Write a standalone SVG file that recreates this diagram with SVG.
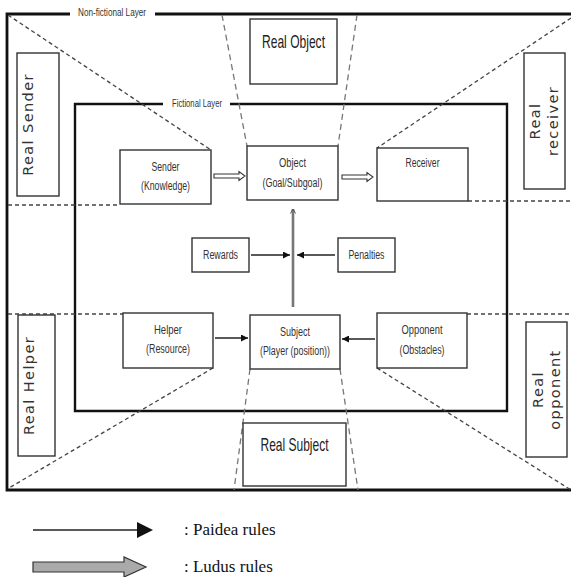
<svg xmlns="http://www.w3.org/2000/svg" width="571" height="577" viewBox="0 0 571 577">
<style>
.frame{fill:none;stroke:#111;stroke-width:2.8}
.inner{fill:none;stroke:#111;stroke-width:2.4}
.box{fill:#fff;stroke:#333;stroke-width:1.4}
.dash{fill:none;stroke:#444;stroke-width:1.3;stroke-dasharray:4 3}
.dash2{fill:none;stroke:#777;stroke-width:1.3;stroke-dasharray:6 4}
.lbl{font-family:"Liberation Sans",Arial,sans-serif;font-size:12.5px;fill:#333;text-anchor:middle}
.big{font-family:"Liberation Sans",Arial,sans-serif;font-size:18.5px;fill:#222;text-anchor:middle}
.layer{font-family:"Liberation Sans",Arial,sans-serif;font-size:10px;fill:#333;text-anchor:middle}
.real{font-family:"DejaVu Sans",Verdana,sans-serif;font-size:14.5px;fill:#333;text-anchor:middle;letter-spacing:1.4px}
.leg{font-family:"Liberation Serif","Times New Roman",serif;font-size:17px;fill:#111}
.pa{stroke:#222;stroke-width:1.4;fill:none}
.ludus{fill:#fff;stroke:#333;stroke-width:1.1}
</style>
<defs>
<marker id="ah" viewBox="0 0 10 10" refX="10" refY="5" markerWidth="7" markerHeight="7" markerUnits="userSpaceOnUse" orient="auto">
<path d="M0 0 L10 5 L0 10 z" fill="#111"/>
</marker>
<marker id="ahg" viewBox="0 0 10 10" refX="9" refY="5" markerWidth="5" markerHeight="6" markerUnits="userSpaceOnUse" orient="auto">
<path d="M0 0 L10 5 L0 10" fill="none" stroke="#555" stroke-width="2"/>
</marker>
<path id="dbl" d="M0 -2 H25 V-4.5 L31 0 L25 4.5 V2 H0 z"/>
</defs>

<g id="frames">
<path class="frame" d="M70 14 H7 V490 H571"/>
<path class="frame" d="M155 14 H571"/>
<text class="layer" x="112" y="16" textLength="68" lengthAdjust="spacingAndGlyphs">Non-fictional Layer</text>
<path class="inner" d="M163 104 H75 V411 H507 V104 H230"/>
<text class="layer" x="197" y="107" textLength="50" lengthAdjust="spacingAndGlyphs">Fictional Layer</text>
</g>

<g id="guides">
<line class="dash" x1="8" y1="15" x2="211" y2="150"/>
<line class="dash2" x1="222" y1="15" x2="247" y2="146"/>
<line class="dash2" x1="357" y1="15" x2="338" y2="146"/>
<line class="dash" x1="571" y1="18" x2="377" y2="148"/>
<line class="dash" x1="8" y1="205" x2="120" y2="205"/>
<line class="dash" x1="468" y1="201" x2="571" y2="201"/>
<line class="dash" x1="8" y1="314" x2="123" y2="314"/>
<line class="dash" x1="467" y1="314" x2="571" y2="314"/>
<line class="dash" x1="213" y1="368" x2="9" y2="488"/>
<line class="dash2" x1="250" y1="369" x2="234" y2="490"/>
<line class="dash2" x1="340" y1="369" x2="358" y2="490"/>
<line class="dash" x1="377" y1="368" x2="571" y2="490"/>
</g>

<g id="real-object">
<rect class="box" x="250" y="19" width="87" height="65"/>
<text class="big" x="293.5" y="48" textLength="63" lengthAdjust="spacingAndGlyphs">Real Object</text>
</g>
<g id="real-subject">
<rect class="box" x="243" y="423" width="103" height="63"/>
<text class="big" x="294.5" y="451" textLength="68" lengthAdjust="spacingAndGlyphs">Real Subject</text>
</g>
<g id="real-sender">
<rect class="box" x="17" y="53" width="42" height="143"/>
<text class="real" transform="translate(33 124.5) rotate(-90)">Real Sender</text>
</g>
<g id="real-helper">
<rect class="box" x="18" y="315" width="37" height="141"/>
<text class="real" transform="translate(34 385.5) rotate(-90)">Real Helper</text>
</g>
<g id="real-receiver">
<rect class="box" x="524" y="53" width="41" height="136"/>
<text class="real" transform="translate(540 121) rotate(-90)">Real</text>
<text class="real" transform="translate(558 121) rotate(-90)">receiver</text>
</g>
<g id="real-opponent">
<rect class="box" x="526" y="322" width="41" height="135"/>
<text class="real" transform="translate(543 389.5) rotate(-90)">Real</text>
<text class="real" transform="translate(560 389.5) rotate(-90)">opponent</text>
</g>

<g id="sender">
<rect class="box" x="120" y="150" width="91" height="54"/>
<text class="lbl" x="165.5" y="171" textLength="28" lengthAdjust="spacingAndGlyphs">Sender</text>
<text class="lbl" x="165.5" y="190" textLength="49" lengthAdjust="spacingAndGlyphs">(Knowledge)</text>
</g>
<g id="object">
<rect class="box" x="247" y="146" width="91" height="54"/>
<text class="lbl" x="292.5" y="167" textLength="27" lengthAdjust="spacingAndGlyphs">Object</text>
<text class="lbl" x="292.5" y="187" textLength="60" lengthAdjust="spacingAndGlyphs">(Goal/Subgoal)</text>
</g>
<g id="receiver">
<rect class="box" x="377" y="148" width="91" height="53"/>
<text class="lbl" x="422.5" y="167" textLength="34" lengthAdjust="spacingAndGlyphs">Receiver</text>
</g>
<g id="rewards">
<rect class="box" x="192" y="238" width="57" height="34"/>
<text class="lbl" x="220.5" y="259" textLength="35" lengthAdjust="spacingAndGlyphs">Rewards</text>
</g>
<g id="penalties">
<rect class="box" x="338" y="238" width="57" height="34"/>
<text class="lbl" x="366.5" y="259" textLength="36" lengthAdjust="spacingAndGlyphs">Penalties</text>
</g>
<g id="helper">
<rect class="box" x="123" y="313" width="90" height="55"/>
<text class="lbl" x="168" y="334" textLength="28" lengthAdjust="spacingAndGlyphs">Helper</text>
<text class="lbl" x="168" y="353" textLength="44" lengthAdjust="spacingAndGlyphs">(Resource)</text>
</g>
<g id="subject">
<rect class="box" x="250" y="315" width="90" height="54"/>
<text class="lbl" x="295" y="336" textLength="30" lengthAdjust="spacingAndGlyphs">Subject</text>
<text class="lbl" x="295" y="355" textLength="70" lengthAdjust="spacingAndGlyphs">(Player (position))</text>
</g>
<g id="opponent">
<rect class="box" x="377" y="313" width="90" height="55"/>
<text class="lbl" x="422" y="334" textLength="41" lengthAdjust="spacingAndGlyphs">Opponent</text>
<text class="lbl" x="422" y="354" textLength="45" lengthAdjust="spacingAndGlyphs">(Obstacles)</text>
</g>

<g id="connectors">
<use href="#dbl" class="ludus" transform="translate(214 176)"/>
<use href="#dbl" class="ludus" transform="translate(342 177)"/>
<line x1="293" y1="307" x2="293" y2="209" stroke="#777" stroke-width="2.6" marker-end="url(#ahg)"/>
<line class="pa" x1="251" y1="255" x2="290" y2="255" marker-end="url(#ah)"/>
<line class="pa" x1="335" y1="255" x2="297" y2="255" marker-end="url(#ah)"/>
<line class="pa" x1="215" y1="338" x2="248" y2="338" marker-end="url(#ah)"/>
<line class="pa" x1="375" y1="339" x2="342" y2="339" marker-end="url(#ah)"/>
</g>

<g id="legend">
<line x1="33" y1="530" x2="140" y2="530" stroke="#222" stroke-width="1.3"/>
<path d="M137 522 L153 530 L137 538 z" fill="#111"/>
<text class="leg" x="184" y="535">: Paidea rules</text>
<path d="M33 562 H124 V557 L146 567 L124 577 V572 H33 z" fill="#aaa" stroke="#333" stroke-width="1.2"/>
<text class="leg" x="184" y="572">: Ludus rules</text>
</g>
</svg>
